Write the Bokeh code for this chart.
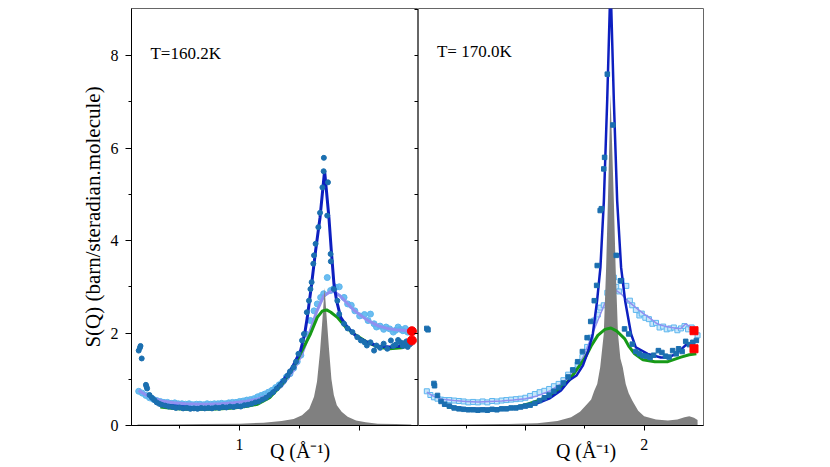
from bokeh.plotting import figure
from bokeh.layouts import row
from bokeh.models import LinearAxis, FixedTicker, Label
from bokeh.embed import file_html
from bokeh.resources import INLINE

# ---------------- T = 160.2 K ----------------
bragg_q_160 = [0.15, 0.40, 0.70, 1.00, 1.20, 1.35, 1.45, 1.52, 1.58, 1.62, 1.645, 1.67, 1.69, 1.708,
               1.725, 1.745, 1.765, 1.785, 1.81, 1.85, 1.90, 1.97, 2.05, 2.15, 2.30, 2.43]
bragg_s_160 = [0.02, 0.02, 0.03, 0.04, 0.06, 0.10, 0.14, 0.22, 0.36, 0.62, 0.95, 1.60, 2.30, 2.98,
               2.35, 1.65, 1.00, 0.66, 0.44, 0.30, 0.19, 0.11, 0.07, 0.04, 0.03, 0.02]

fit_q_160 = [0.30, 0.40, 0.50, 0.60, 0.70, 0.80, 0.90, 1.00, 1.10, 1.20, 1.30, 1.37, 1.44, 1.508,
             1.542, 1.564, 1.60, 1.633, 1.67, 1.708, 1.744, 1.764, 1.786, 1.808, 1.842, 1.897,
             1.98, 2.064, 2.15, 2.25, 2.35, 2.42]
fit_s_160 = [0.50, 0.44, 0.41, 0.39, 0.38, 0.39, 0.40, 0.42, 0.47, 0.57, 0.78, 1.00, 1.26, 1.62,
             1.98, 2.34, 3.06, 3.78, 4.50, 5.51, 4.50, 3.78, 3.06, 2.70, 2.34, 2.13,
             1.91, 1.80, 1.72, 1.70, 1.72, 1.73]

green_q_160 = [0.34, 0.45, 0.55, 0.65, 0.75, 0.85, 0.95, 1.05, 1.15, 1.25, 1.356, 1.45, 1.52, 1.59,
               1.647, 1.69, 1.725, 1.76, 1.814, 1.883, 1.953, 2.064, 2.15, 2.25, 2.35, 2.43]
green_s_160 = [0.40, 0.37, 0.35, 0.35, 0.35, 0.36, 0.38, 0.41, 0.46, 0.60, 0.90, 1.26, 1.62, 1.98,
               2.34, 2.48, 2.50, 2.45, 2.34, 2.13, 1.98, 1.80, 1.70, 1.66, 1.68, 1.76]

smooth_q_160 = [0.16, 0.22, 0.28, 0.35, 0.45, 0.55, 0.65, 0.75, 0.85, 0.95, 1.05, 1.15, 1.25, 1.35,
                1.45, 1.52, 1.58, 1.64, 1.70, 1.772, 1.83, 1.89, 1.95, 2.02, 2.09, 2.16, 2.23,
                2.30, 2.36, 2.42]
smooth_s_160 = [0.76, 0.66, 0.59, 0.53, 0.49, 0.47, 0.46, 0.46, 0.47, 0.49, 0.52, 0.57, 0.66, 0.85,
                1.20, 1.55, 1.98, 2.45, 2.80, 2.92, 2.82, 2.66, 2.50, 2.36, 2.24, 2.15, 2.10,
                2.07, 2.06, 2.05]

dataA_q_160 = [0.16, 0.17, 0.175, 0.185, 0.22, 0.225, 0.23, 0.25, 0.27, 0.29, 0.31, 0.33, 0.35, 0.38,
               0.41, 0.44, 0.47, 0.50, 0.53, 0.56, 0.59, 0.62, 0.65, 0.68, 0.71, 0.74, 0.77, 0.80,
               0.83, 0.86, 0.89, 0.92, 0.95, 0.98, 1.01, 1.04, 1.07, 1.10, 1.13, 1.16, 1.19, 1.22,
               1.25, 1.28, 1.31, 1.34, 1.37, 1.40, 1.42, 1.45, 1.47, 1.49, 1.52, 1.536, 1.56, 1.578,
               1.59, 1.60, 1.614, 1.62, 1.633, 1.656, 1.67, 1.69, 1.70, 1.702, 1.73, 1.736, 1.758,
               1.76, 1.785, 1.814, 1.83, 1.87, 1.90, 1.94, 1.98, 2.01, 2.04, 2.06, 2.09, 2.12, 2.14,
               2.17, 2.20, 2.23, 2.26, 2.28, 2.30, 2.32, 2.34, 2.36, 2.37, 2.39, 2.40, 2.42]
dataA_s_160 = [1.62, 1.68, 1.72, 1.45, 0.88, 0.84, 0.80, 0.66, 0.60, 0.55, 0.50, 0.47, 0.45, 0.43,
               0.41, 0.40, 0.38, 0.39, 0.37, 0.38, 0.36, 0.37, 0.36, 0.38, 0.37, 0.38, 0.37, 0.39,
               0.38, 0.40, 0.39, 0.41, 0.40, 0.42, 0.41, 0.44, 0.45, 0.47, 0.50, 0.52, 0.56, 0.60,
               0.66, 0.72, 0.80, 0.88, 0.97, 1.08, 1.17, 1.26, 1.38, 1.55, 1.84, 1.98, 2.45, 2.70,
               2.95, 3.10, 3.50, 3.68, 3.93, 4.29, 4.60, 5.15, 5.50, 5.79, 4.54, 5.26, 3.71,
               3.55, 2.95, 2.70, 2.41, 2.20, 2.10, 2.02, 1.91, 1.84, 1.80, 1.73, 1.80, 1.62, 1.73,
               1.68, 1.77, 1.66, 1.84, 1.72, 1.75, 1.85, 1.80, 1.72, 1.78, 1.82, 1.70, 1.76]

dataB_q_160 = [0.16, 0.19, 0.22, 0.25, 0.28, 0.31, 0.34, 0.37, 0.40, 0.43, 0.46, 0.49, 0.52, 0.55,
               0.58, 0.61, 0.64, 0.67, 0.70, 0.73, 0.76, 0.79, 0.82, 0.85, 0.88, 0.91, 0.94, 0.97,
               1.00, 1.03, 1.06, 1.09, 1.12, 1.15, 1.18, 1.21, 1.24, 1.27, 1.30, 1.33, 1.36, 1.39,
               1.42, 1.45, 1.48, 1.51, 1.55, 1.59, 1.62, 1.647, 1.675, 1.70, 1.73, 1.758, 1.78,
               1.80, 1.83, 1.87, 1.90, 1.93, 1.96, 2.00, 2.04, 2.07, 2.09, 2.12, 2.14, 2.17, 2.20,
               2.22, 2.25, 2.28, 2.30, 2.32, 2.34, 2.36, 2.38, 2.40, 2.42]
dataB_s_160 = [0.74, 0.70, 0.65, 0.60, 0.57, 0.54, 0.52, 0.50, 0.50, 0.48, 0.49, 0.47, 0.47, 0.46,
               0.47, 0.45, 0.46, 0.46, 0.45, 0.47, 0.46, 0.47, 0.47, 0.48, 0.47, 0.49, 0.50, 0.50,
               0.52, 0.53, 0.55, 0.56, 0.58, 0.62, 0.65, 0.68, 0.72, 0.76, 0.82, 0.88, 0.95, 1.05,
               1.12, 1.24, 1.38, 1.52, 1.98, 2.27, 2.48, 2.63, 2.77, 2.85, 3.20, 2.92, 2.95,
               2.99, 3.00, 2.77, 2.63, 2.60, 2.48, 2.37, 2.40, 2.27, 2.41, 2.20, 2.13, 2.15, 2.08,
               2.13, 2.09, 2.02, 2.06, 2.13, 2.08, 2.05, 2.10, 2.02, 2.06]

red_q_160 = [2.435, 2.435]
red_s_160 = [2.04, 1.84]

# ---------------- T = 170.0 K ----------------
bragg_q_170 = [0.15, 0.50, 0.80, 1.10, 1.27, 1.385, 1.46, 1.526, 1.554, 1.58, 1.605, 1.63, 1.66,
               1.68, 1.695, 1.717, 1.745, 1.76, 1.78, 1.80, 1.82, 1.845, 1.87, 1.90, 1.95, 2.00,
               2.10, 2.20, 2.28, 2.34, 2.38, 2.42, 2.45]
bragg_s_170 = [0.01, 0.02, 0.03, 0.05, 0.10, 0.18, 0.30, 0.48, 0.56, 0.75, 0.90, 1.26, 1.98,
               3.42, 4.86, 7.17, 4.86, 3.42, 1.98, 1.45, 1.26, 0.90, 0.70, 0.54, 0.32, 0.20,
               0.13, 0.11, 0.13, 0.18, 0.20, 0.17, 0.12]

fit_q_170 = [0.30, 0.40, 0.50, 0.60, 0.70, 0.80, 0.90, 1.00, 1.10, 1.20, 1.30, 1.37, 1.43, 1.485,
             1.53, 1.568, 1.604, 1.632, 1.661, 1.689, 1.717, 1.745, 1.773, 1.806, 1.84, 1.89,
             1.93, 2.03, 2.14, 2.20, 2.26, 2.31, 2.35, 2.38, 2.41, 2.44]
fit_s_170 = [0.45, 0.40, 0.37, 0.36, 0.36, 0.37, 0.39, 0.42, 0.48, 0.58, 0.76, 0.98, 1.08, 1.30,
             1.62, 1.98, 2.70, 3.42, 4.86, 7.03, 9.60, 7.03, 4.86, 3.42, 2.70, 1.98,
             1.69, 1.55, 1.47, 1.47, 1.54, 1.64, 1.74, 1.76, 1.71, 1.69]

green_q_170 = [0.34, 0.45, 0.525, 0.65, 0.806, 0.93, 1.03, 1.13, 1.228, 1.30, 1.37, 1.43, 1.50,
               1.554, 1.61, 1.67, 1.72, 1.77, 1.835, 1.87, 1.92, 1.99, 2.09, 2.20, 2.31, 2.38, 2.44]
green_s_170 = [0.40, 0.37, 0.35, 0.35, 0.36, 0.40, 0.47, 0.56, 0.68, 0.82, 0.98, 1.20, 1.45,
               1.72, 1.95, 2.08, 2.11, 2.04, 1.88, 1.72, 1.55, 1.42, 1.38, 1.38, 1.48, 1.53, 1.55]

smooth_q_170 = [0.17, 0.22, 0.30, 0.40, 0.50, 0.60, 0.70, 0.80, 0.90, 1.00, 1.10, 1.20, 1.30, 1.38,
                1.44, 1.50, 1.554, 1.61, 1.667, 1.72, 1.765, 1.81, 1.86, 1.93, 2.00, 2.06, 2.11,
                2.17, 2.23, 2.28, 2.31, 2.35, 2.38, 2.42]
smooth_s_170 = [0.72, 0.64, 0.57, 0.54, 0.52, 0.51, 0.52, 0.53, 0.55, 0.58, 0.64, 0.74, 0.90, 1.08,
                1.26, 1.55, 1.91, 2.27, 2.63, 2.85, 2.92, 2.84, 2.70, 2.55, 2.41, 2.30, 2.20,
                2.15, 2.12, 2.10, 2.10, 2.20, 2.15, 2.05]

dataA_q_170 = [0.17, 0.18, 0.23, 0.235, 0.26, 0.29, 0.32, 0.36, 0.40, 0.44, 0.48, 0.52, 0.56, 0.60,
               0.64, 0.68, 0.72, 0.76, 0.80, 0.84, 0.88, 0.92, 0.96, 1.00, 1.04, 1.08, 1.12, 1.16,
               1.20, 1.24, 1.28, 1.32, 1.36, 1.40, 1.44, 1.48, 1.52, 1.55, 1.58, 1.60, 1.605, 1.63,
               1.64, 1.66, 1.667, 1.69, 1.737, 1.765, 1.80, 1.835, 1.87, 1.90, 1.93, 1.96, 1.99,
               2.02, 2.05, 2.08, 2.12, 2.15, 2.18, 2.21, 2.24, 2.27, 2.29, 2.32, 2.35, 2.38, 2.41,
               2.44]
dataA_s_170 = [2.10, 2.07, 0.91, 0.86, 0.65, 0.52, 0.46, 0.42, 0.38, 0.36, 0.35, 0.34, 0.34, 0.33,
               0.34, 0.33, 0.35, 0.34, 0.36, 0.36, 0.38, 0.38, 0.40, 0.42, 0.44, 0.48, 0.54, 0.60,
               0.66, 0.74, 0.82, 0.92, 1.05, 1.20, 1.38, 1.60, 1.90, 2.25, 2.70, 3.03, 3.46, 4.65,
               4.69, 5.55, 5.80, 7.60, 6.50, 3.68, 3.13, 2.09, 1.98, 1.76, 1.60, 1.55, 1.51,
               1.50, 1.47, 1.52, 1.62, 1.58, 1.50, 1.48, 1.62, 1.55, 1.66, 1.60, 1.82, 1.75, 1.80,
               1.84]

dataB_q_170 = [0.17, 0.20, 0.23, 0.26, 0.29, 0.32, 0.36, 0.40, 0.44, 0.48, 0.52, 0.56, 0.60, 0.64,
               0.68, 0.72, 0.76, 0.80, 0.84, 0.88, 0.92, 0.96, 1.00, 1.04, 1.08, 1.12, 1.16, 1.20,
               1.24, 1.28, 1.32, 1.36, 1.40, 1.44, 1.48, 1.52, 1.55, 1.58, 1.61, 1.63, 1.66, 1.69,
               1.72, 1.745, 1.765, 1.79, 1.81, 1.85, 1.88, 1.90, 1.93, 1.96, 1.98, 2.01, 2.04, 2.07,
               2.10, 2.13, 2.16, 2.19, 2.22, 2.25, 2.28, 2.31, 2.34, 2.37, 2.40, 2.43, 2.45]
dataB_s_170 = [0.74, 0.66, 0.61, 0.58, 0.56, 0.55, 0.55, 0.54, 0.53, 0.52, 0.50, 0.51, 0.50, 0.52,
               0.50, 0.53, 0.52, 0.54, 0.55, 0.56, 0.57, 0.58, 0.60, 0.64, 0.68, 0.72, 0.75, 0.79,
               0.85, 0.90, 0.98, 1.10, 1.20, 1.32, 1.48, 1.70, 1.90, 2.27, 2.40, 2.55, 2.60, 2.87,
               2.95, 3.20, 3.00, 2.90, 3.13, 3.02, 2.70, 2.60, 2.50, 2.38, 2.42, 2.33, 2.30, 2.20,
               2.22, 2.12, 2.14, 2.08, 2.10, 2.12, 2.06, 2.10, 2.15, 2.08, 2.12, 2.05, 1.95]

red_q_170 = [2.42, 2.42]
red_s_170 = [2.05, 1.66]

SERIF = "Liberation Serif"
GRAY = "#808080"
DARK_BLUE = "#0d1fc0"
MID_BLUE = "#1b6fb0"
LIGHT_BLUE = "#5cb6ee"
LAVENDER = "#9090f0"
GREEN = "#179a17"

# the axis title sits under Q = 1.5, right of the frame centre
X_TITLE = "\u2003\u2003\u2002Q (Å⁻¹)"


def style_xaxis(p, overrides):
    ax = p.xaxis[0]
    ax.ticker = FixedTicker(ticks=[1.0, 2.0], minor_ticks=[0.5, 1.0, 1.5, 2.0])
    ax.major_label_overrides = overrides
    ax.major_tick_out = 5
    ax.major_tick_in = 0
    ax.minor_tick_out = 3
    ax.minor_tick_in = 0
    ax.major_label_standoff = 8
    ax.major_label_text_font = SERIF
    ax.major_label_text_font_size = "16px"
    ax.major_label_text_color = "black"
    ax.axis_line_color = "black"
    ax.major_tick_line_color = "black"
    ax.minor_tick_line_color = "black"
    ax.axis_label = X_TITLE
    ax.axis_label_text_font = SERIF
    ax.axis_label_text_font_size = "20px"
    ax.axis_label_text_font_style = "normal"
    ax.axis_label_text_color = "black"
    ax.axis_label_standoff = -13


def make_panel(p, bq, bs, fq, fs, gq, gs, sq, ss, aq, as_, bq2, bs2, rq, rs, squares, lav_w, fit_w):
    if squares:
        p.scatter(bq2, bs2, marker="square", size=5, fill_color="#c8e6fb",
                  line_color=LIGHT_BLUE, line_width=1)
    else:
        p.scatter(bq2, bs2, marker="circle", size=6, fill_color=LIGHT_BLUE,
                  line_color=LIGHT_BLUE, fill_alpha=0.9)
    p.line(sq, ss, line_color=LAVENDER, line_width=lav_w)
    p.varea(x=bq, y1=[0] * len(bq), y2=bs, fill_color=GRAY)
    p.line(gq, gs, line_color=GREEN, line_width=3)
    p.line(fq, fs, line_color=DARK_BLUE, line_width=fit_w)
    if squares:
        p.scatter(aq, as_, marker="square", size=4.5, fill_color=MID_BLUE, line_color=MID_BLUE)
        p.scatter(rq, rs, marker="square", size=8, fill_color="red", line_color="red")
    else:
        p.scatter(aq, as_, marker="circle", size=5, fill_color=MID_BLUE, line_color=MID_BLUE)
        p.scatter(rq, rs, marker="circle", size=9, fill_color="red", line_color="red")


common = dict(output_backend="svg", toolbar_location=None, frame_height=417,
              y_range=(0, 9.02), min_border_top=8, min_border_bottom=30)

p1 = figure(frame_width=287, x_range=(0.1, 2.49), min_border_left=131, min_border_right=0, **common)
p2 = figure(frame_width=285, x_range=(0.1, 2.5), min_border_left=0, min_border_right=20,
            y_axis_location=None, **common)

for p in (p1, p2):
    p.grid.visible = False
    p.outline_line_color = "#666666"
    p.outline_line_width = 1
    p.background_fill_color = "white"
    p.border_fill_color = "white"

make_panel(p1, bragg_q_160, bragg_s_160, fit_q_160, fit_s_160, green_q_160, green_s_160,
           smooth_q_160, smooth_s_160, dataA_q_160, dataA_s_160, dataB_q_160, dataB_s_160,
           red_q_160, red_s_160, squares=False, lav_w=3, fit_w=3)
make_panel(p2, bragg_q_170, bragg_s_170, fit_q_170, fit_s_170, green_q_170, green_s_170,
           smooth_q_170, smooth_s_170, dataA_q_170, dataA_s_170, dataB_q_170, dataB_s_170,
           red_q_170, red_s_170, squares=True, lav_w=1.5, fit_w=2.5)

style_xaxis(p1, {2: ""})
style_xaxis(p2, {1: ""})

ya = p1.yaxis[0]
ya.ticker = FixedTicker(ticks=[0, 2, 4, 6, 8], minor_ticks=[1, 3, 5, 7])
ya.major_tick_out = 6
ya.major_tick_in = 0
ya.minor_tick_out = 3
ya.minor_tick_in = 0
ya.major_label_standoff = 7
ya.major_label_text_font = SERIF
ya.major_label_text_font_size = "16px"
ya.major_label_text_color = "black"
ya.axis_line_color = "black"
ya.axis_label = "S(Q) (barn/steradian.molecule)"
ya.axis_label_text_font = SERIF
ya.axis_label_text_font_size = "21px"
ya.axis_label_text_font_style = "normal"
ya.axis_label_text_color = "black"
ya.axis_label_standoff = 3

ra = LinearAxis(ticker=FixedTicker(ticks=list(range(10)), minor_ticks=[]),
                major_tick_in=4, major_tick_out=0, minor_tick_in=0, minor_tick_out=0,
                major_label_overrides={i: "" for i in range(10)},
                major_label_text_font_size="10px", major_label_standoff=0,
                axis_line_color="black", major_tick_line_color="black")
p1.add_layout(ra, "right")

for p, txt, tx, ty in ((p1, "T=160.2K", 0.258, 8.04), (p2, "T= 170.0K", 0.255, 8.08)):
    p.add_layout(Label(x=tx, y=ty, text=txt, text_font=SERIF, text_font_size="17px",
                       text_baseline="middle", text_align="left", text_color="black"))

layout = row(p1, p2)
open("out.html", "w").write(file_html(layout, INLINE))
